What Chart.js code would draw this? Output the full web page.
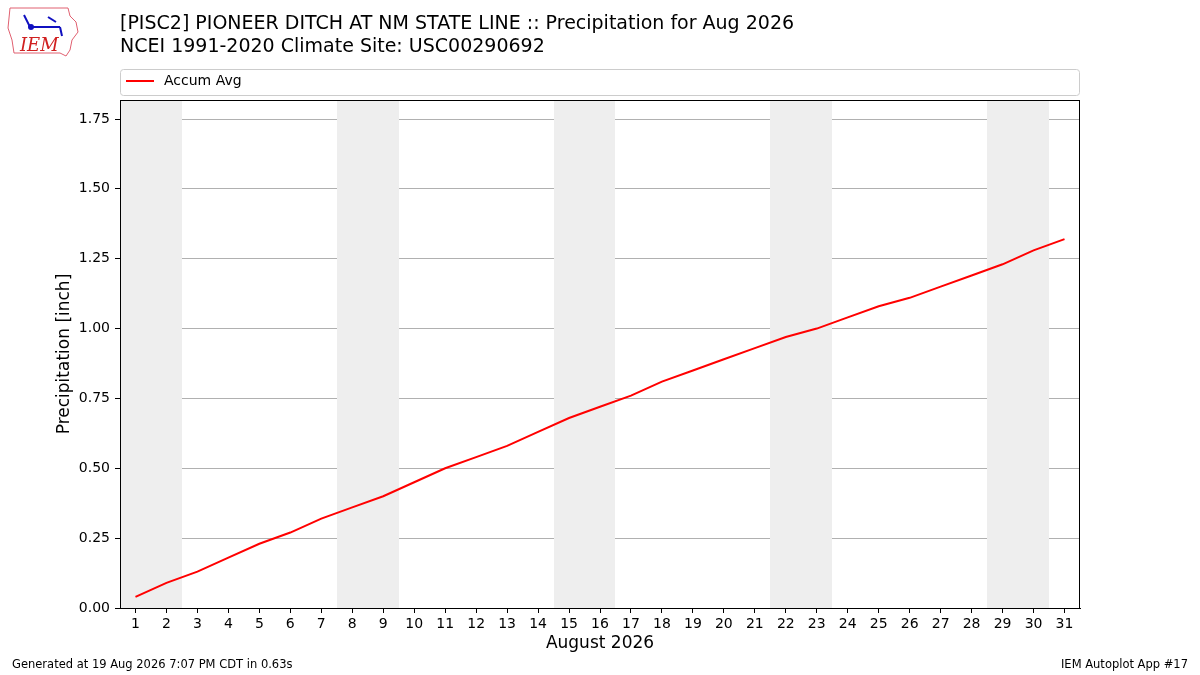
<!DOCTYPE html>
<html>
<head>
<meta charset="utf-8">
<script src="https://cdn.jsdelivr.net/npm/chart.js@4"></script>
<style>
  html, body { margin: 0; padding: 0; background: #fff; }
  #wrap { width: 1200px; height: 675px; }
</style>
</head>
<body>
<div id="wrap"><canvas id="chart" width="1200" height="675"></canvas></div>
<script>
// chart values
const days = [1,2,3,4,5,6,7,8,9,10,11,12,13,14,15,16,17,18,19,20,21,22,23,24,25,26,27,28,29,30,31];
const accumAvg = [0.04,0.09,0.13,0.18,0.23,0.27,0.32,0.36,0.40,0.45,0.50,0.54,0.58,0.63,0.68,0.72,
  0.76,0.81,0.85,0.89,0.93,0.97,1.00,1.04,1.08,1.11,1.15,1.19,1.23,1.28,1.32];
const yTicks = [0,0.25,0.5,0.75,1.0,1.25,1.5,1.75];
const weekendDays = [1,2,8,9,15,16,22,23,29,30];

const titleLine1 = '[PISC2] PIONEER DITCH AT NM STATE LINE :: Precipitation for Aug 2026';
const titleLine2 = 'NCEI 1991-2020 Climate Site: USC00290692';
const FONT = '"DejaVu Sans", sans-serif';

// shaded weekends behind the line (whole pixels so adjacent days don't leave a seam)
const weekendShade = {
  id: 'weekendShade',
  beforeDatasetsDraw(chart){
    const {ctx, chartArea: a, scales: {x}} = chart;
    ctx.save();
    ctx.fillStyle = '#eeeeee';
    weekendDays.forEach(d => {
      const l = Math.round(x.getPixelForValue(d - 0.5));
      const r = Math.round(x.getPixelForValue(d + 0.5));
      ctx.fillRect(l, a.top, r - l, a.bottom - a.top);
    });
    ctx.restore();
  }
};

// frame, titles, legend, footer, logo
const decor = {
  id: 'decor',
  afterDraw(chart){
    const {ctx, chartArea: a} = chart;
    ctx.save();
    ctx.strokeStyle = '#000'; ctx.lineWidth = 1;
    ctx.strokeRect(a.left + 0.5, a.top + 0.5, a.right - a.left - 1, a.bottom - a.top);

    ctx.fillStyle = '#000';
    ctx.textBaseline = 'middle';
    ctx.textAlign = 'left';
    ctx.font = '19px ' + FONT;
    ctx.fillText(titleLine1, 120, 24);
    ctx.fillText(titleLine2, 120, 47);

    // legend box
    ctx.strokeStyle = '#cccccc';
    ctx.beginPath();
    ctx.roundRect(120.5, 69.5, 959, 26, 3);
    ctx.stroke();
    ctx.strokeStyle = 'red'; ctx.lineWidth = 2;
    ctx.beginPath(); ctx.moveTo(126, 81); ctx.lineTo(154, 81); ctx.stroke();
    ctx.font = '14px ' + FONT;
    ctx.fillText('Accum Avg', 164, 81.5);

    // axis titles
    ctx.font = '17px ' + FONT;
    ctx.textAlign = 'center';
    ctx.fillText('August 2026', (a.left + a.right) / 2, 644);
    ctx.save();
    ctx.translate(65, (a.top + a.bottom) / 2);
    ctx.rotate(-Math.PI / 2);
    ctx.fillText('Precipitation [inch]', 0, 0);
    ctx.restore();

    // footer
    ctx.font = '11.5px ' + FONT;
    ctx.textAlign = 'left';
    ctx.fillText('Generated at 19 Aug 2026 7:07 PM CDT in 0.63s', 12, 665);
    ctx.textAlign = 'right';
    ctx.fillText('IEM Autoplot App #17', 1188, 665);

    // rough IEM logo
    ctx.strokeStyle = '#e06070'; ctx.lineWidth = 1;
    ctx.beginPath();
    ctx.moveTo(10, 8); ctx.lineTo(68, 8); ctx.lineTo(70, 16); ctx.lineTo(76, 22);
    ctx.lineTo(78, 32); ctx.lineTo(72, 40); ctx.lineTo(70, 50); ctx.lineTo(66, 56);
    ctx.lineTo(60, 53); ctx.lineTo(14, 53); ctx.lineTo(12, 40); ctx.lineTo(8, 28);
    ctx.closePath(); ctx.stroke();
    ctx.strokeStyle = '#1010c0'; ctx.fillStyle = '#1010c0'; ctx.lineWidth = 2;
    ctx.beginPath(); ctx.moveTo(30, 27); ctx.lineTo(60, 27); ctx.stroke();
    ctx.beginPath(); ctx.moveTo(30, 27); ctx.lineTo(24, 15); ctx.stroke();
    ctx.beginPath(); ctx.arc(31, 27, 3, 0, Math.PI * 2); ctx.fill();
    ctx.beginPath(); ctx.moveTo(48, 17); ctx.lineTo(56, 22); ctx.stroke();
    ctx.beginPath(); ctx.moveTo(60, 27); ctx.lineTo(62, 36); ctx.stroke();
    ctx.fillStyle = '#d02020';
    ctx.font = 'italic 18px "DejaVu Serif", "Liberation Serif", serif';
    ctx.textAlign = 'left';
    ctx.fillText('IEM', 20, 46);
    ctx.restore();
  }
};

new Chart(document.getElementById('chart'), {
  type: 'line',
  data: {
    datasets: [{
      label: 'Accum Avg',
      data: days.map((d, i) => ({x: d, y: accumAvg[i]})),
      borderColor: 'red',
      borderWidth: 2,
      pointRadius: 0,
      tension: 0,
      fill: false
    }]
  },
  options: {
    responsive: false,
    animation: false,
    devicePixelRatio: 1,
    layout: { padding: { top: 100, right: 120, left: 0, bottom: 0 } },
    plugins: { legend: { display: false }, title: { display: false }, tooltip: { enabled: false } },
    scales: {
      x: {
        type: 'linear', min: 0.5, max: 31.5,
        afterBuildTicks: s => { s.ticks = days.map(v => ({value: v})); },
        afterFit: s => { s.height = 67; },
        ticks: { color: '#000', font: { family: FONT, size: 14 }, padding: 3, maxRotation: 0, autoSkip: false,
                 callback: v => String(v) },
        grid: { drawOnChartArea: false, tickLength: 5, tickColor: '#000' },
        border: { display: true, color: '#000' }
      },
      y: {
        min: 0, max: 1.818,
        afterBuildTicks: s => { s.ticks = yTicks.map(v => ({value: v})); },
        afterFit: s => { s.width = 120; },
        ticks: { color: '#000', font: { family: FONT, size: 14 }, padding: 5,
                 callback: v => Number(v).toFixed(2) },
        grid: { color: '#b0b0b0', tickLength: 5, tickColor: '#000' },
        border: { display: true, color: '#000' }
      }
    }
  },
  plugins: [weekendShade, decor]
});
</script>
</body>
</html>
